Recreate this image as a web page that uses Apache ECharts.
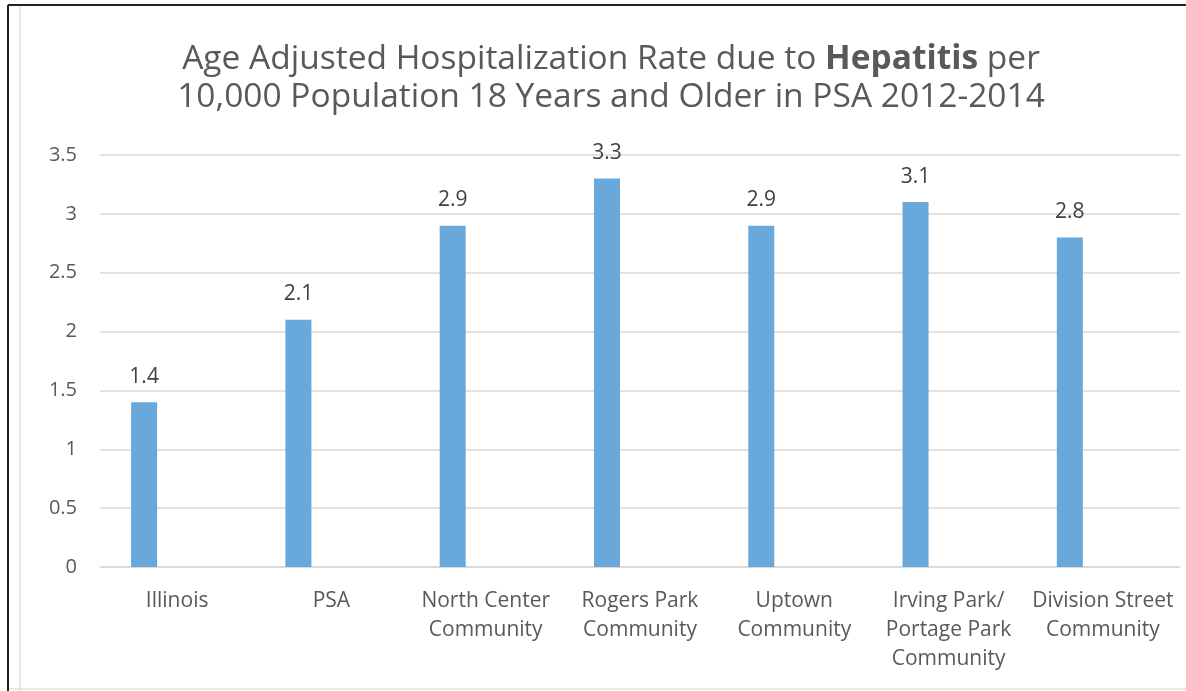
<!DOCTYPE html>
<html>
<head>
<meta charset="utf-8">
<script src="https://cdn.jsdelivr.net/npm/echarts@6/dist/echarts.min.js"></script>
<style>html,body{margin:0;padding:0;background:#fff;}#c{width:1186px;height:691px;}</style>
</head>
<body>
<div id="c"></div>
<script>
const categories = ['Illinois', 'PSA', 'North Center\nCommunity', 'Rogers Park\nCommunity', 'Uptown\nCommunity', 'Irving Park/\nPortage Park\nCommunity', 'Division Street\nCommunity'];
const rateValues = [1.4, 2.1, 2.9, 3.3, 2.9, 3.1, 2.8];
const spacerValues = [null, null, null, null, null, null, null];
const yTicks = { min: 0, max: 3.5, interval: 0.5 };

const FONT = '"Open Sans", sans-serif';
const chart = echarts.init(document.getElementById('c'), null, { renderer: 'canvas' });
chart.setOption({
  backgroundColor: '#ffffff',
  animation: false,
  title: {
    left: 606,
    textAlign: 'center',
    top: 35,
    text: '{a|Age Adjusted Hospitalization Rate due to }{b|Hepatitis}{a| per}\n{a|10,000 Population 18 Years and Older in PSA 2012-2014}',
    textStyle: {
      fontFamily: FONT,
      fontWeight: 'normal',
      rich: {
        a: { fontFamily: FONT, fontSize: 33.5, color: '#595959', fontWeight: 'normal', lineHeight: 38 },
        b: { fontFamily: FONT, fontSize: 33.5, color: '#595959', fontWeight: 'bold', lineHeight: 38 }
      }
    }
  },
  grid: { left: 100, right: 6, top: 155, bottom: 124, containLabel: false },
  xAxis: {
    type: 'category',
    data: categories,
    axisLine: { lineStyle: { color: '#D9D9D9', width: 1.5 } },
    axisTick: { show: false },
    axisLabel: { fontFamily: FONT, fontSize: 21, color: '#595959', margin: 20, lineHeight: 29, interval: 0 }
  },
  yAxis: {
    type: 'value',
    min: yTicks.min, max: yTicks.max, interval: yTicks.interval,
    axisLine: { show: false },
    axisTick: { show: false },
    splitLine: { lineStyle: { color: '#D9D9D9', width: 1.5 } },
    axisLabel: { fontFamily: FONT, fontSize: 20, color: '#595959', margin: 23 }
  },
  series: [
    {
      type: 'bar',
      data: rateValues,
      barWidth: 26,
      barGap: '154%',
      itemStyle: { color: '#69A8DB' },
      label: { show: true, position: 'top', distance: 15, fontFamily: FONT, fontSize: 21, color: '#404040' }
    },
    {
      type: 'bar',
      data: spacerValues,
      barWidth: 26,
      itemStyle: { color: '#ED7D31' }
    }
  ],
  graphic: [
    { type: 'line', shape: { x1: 8, y1: 5, x2: 1186, y2: 5 }, style: { stroke: '#222', lineWidth: 2 } },
    { type: 'line', shape: { x1: 8, y1: 5, x2: 8, y2: 691 }, style: { stroke: '#222', lineWidth: 2 } },
    { type: 'line', shape: { x1: 20, y1: 6, x2: 20, y2: 691 }, style: { stroke: '#E0E0E0', lineWidth: 1.5 } },
    { type: 'line', shape: { x1: 9, y1: 689, x2: 1186, y2: 689 }, style: { stroke: '#E0E0E0', lineWidth: 1.5 } }
  ]
});
</script>
</body>
</html>
